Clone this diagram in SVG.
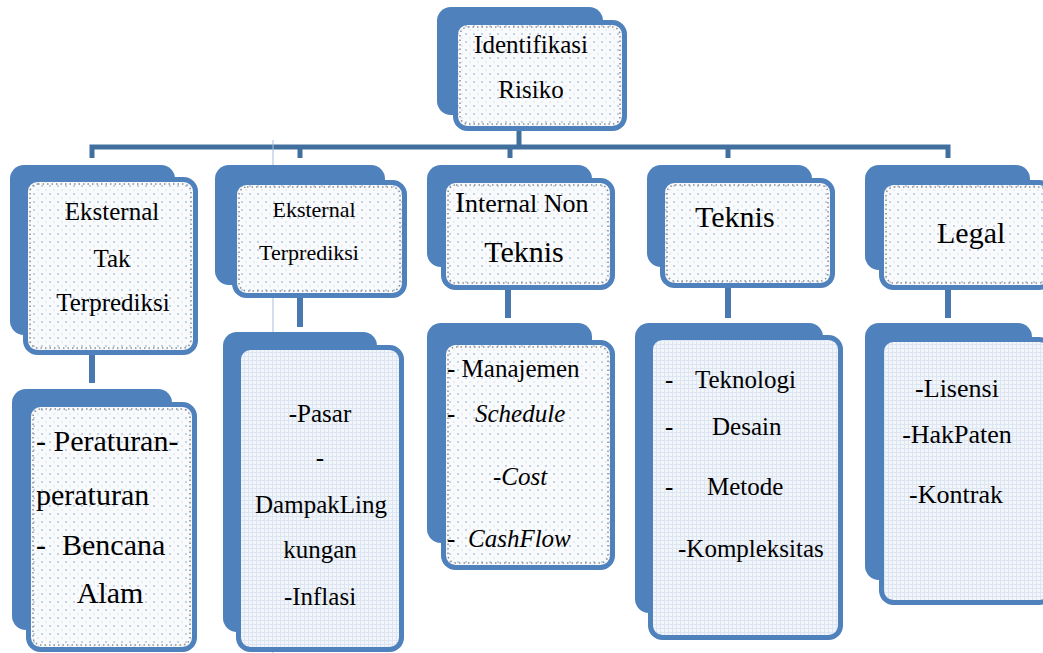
<svg xmlns="http://www.w3.org/2000/svg" width="1043" height="653" viewBox="0 0 1043 653">
<defs>
<pattern id="dots" width="8" height="8" patternUnits="userSpaceOnUse">
<rect width="8" height="8" fill="#f9fafc"/>
<circle cx="2" cy="2" r="0.9" fill="#a9c1e0"/>
<circle cx="6" cy="6" r="0.7" fill="#cad8eb"/>
</pattern>
<pattern id="grid" width="4" height="4" patternUnits="userSpaceOnUse">
<rect width="4" height="4" fill="#f2f5fa"/>
<path d="M0 0.5H4M0.5 0V4" stroke="#dce5f1" stroke-width="1"/>
</pattern>
</defs>
<rect width="1043" height="653" fill="#ffffff"/>
<g id="connectors" fill="none">
<path stroke="#41709f" stroke-width="5" d="M519 129V147M92 158V147H948V158M300 147V158M510 147V158M728 147V158"/>
<path stroke="#4a78b0" stroke-width="6" d="M92 355V383M300 298V327M508 290V318M728 288V318M948 290V318"/>
</g>
<line x1="273" y1="140" x2="273" y2="653" stroke="#a9bfdc" stroke-width="1"/>
<g font-family="'Liberation Serif', 'Times New Roman', serif" fill="#000000">
<g id="n-identifikasi">
<rect fill="#4f81bd" x="437" y="7" width="166" height="108" rx="14"/>
<rect fill="url(#dots)" stroke="#4f81bd" stroke-width="5" x="455.5" y="22.5" width="169" height="106" rx="12"/>
<rect fill="none" stroke="#8c8c8c" stroke-width="1.5" stroke-dasharray="1.5 3" x="460" y="27" width="160" height="97" rx="8"/>
<text font-size="25" text-anchor="middle" x="531" y="53">Identifikasi</text>
<text font-size="25" text-anchor="middle" x="531" y="98">Risiko</text>
</g>
<g id="n-eksternal-tak">
<rect fill="#4f81bd" x="10" y="165" width="165" height="170" rx="14"/>
<rect fill="url(#dots)" stroke="#4f81bd" stroke-width="5" x="25.5" y="179.5" width="170" height="173" rx="12"/>
<rect fill="none" stroke="#8c8c8c" stroke-width="1.5" stroke-dasharray="1.5 3" x="30" y="184" width="161" height="164" rx="8"/>
<text font-size="25" text-anchor="middle" x="112" y="220">Eksternal</text>
<text font-size="25" text-anchor="middle" x="112" y="267">Tak</text>
<text font-size="25" text-anchor="middle" x="113" y="311">Terprediksi</text>
</g>
<g id="n-eksternal-terprediksi">
<rect fill="#4f81bd" x="215" y="165" width="170" height="120" rx="14"/>
<rect fill="url(#dots)" stroke="#4f81bd" stroke-width="5" x="234.5" y="182.5" width="170" height="113" rx="12"/>
<rect fill="none" stroke="#8c8c8c" stroke-width="1.5" stroke-dasharray="1.5 3" x="239" y="187" width="161" height="104" rx="8"/>
<text font-size="22" text-anchor="middle" x="314" y="217">Eksternal</text>
<text font-size="22" text-anchor="middle" x="309" y="260">Terprediksi</text>
</g>
<g id="n-internal-non-teknis">
<rect fill="#4f81bd" x="427" y="165" width="165" height="102" rx="14"/>
<rect fill="url(#dots)" stroke="#4f81bd" stroke-width="5" x="443.5" y="180.5" width="169" height="107" rx="12"/>
<rect fill="none" stroke="#8c8c8c" stroke-width="1.5" stroke-dasharray="1.5 3" x="448" y="185" width="160" height="98" rx="8"/>
<text font-size="26" x="455" y="212"><tspan font-size="30">I</tspan>nternal Non</text>
<text font-size="30" text-anchor="middle" x="524" y="262">Teknis</text>
</g>
<g id="n-teknis">
<rect fill="#4f81bd" x="647" y="165" width="165" height="102" rx="14"/>
<rect fill="url(#dots)" stroke="#4f81bd" stroke-width="5" x="662.5" y="180.5" width="170" height="105" rx="12"/>
<rect fill="none" stroke="#8c8c8c" stroke-width="1.5" stroke-dasharray="1.5 3" x="667" y="185" width="161" height="96" rx="8"/>
<text font-size="30" x="695" y="227">Teknis</text>
</g>
<g id="n-legal">
<rect fill="#4f81bd" x="865" y="165" width="165" height="105" rx="14"/>
<rect fill="url(#dots)" stroke="#4f81bd" stroke-width="5" x="881.5" y="182.5" width="170" height="105" rx="12"/>
<rect fill="none" stroke="#8c8c8c" stroke-width="1.5" stroke-dasharray="1.5 3" x="886" y="187" width="161" height="96" rx="8"/>
<text font-size="30" x="937" y="243">Legal</text>
</g>
<g id="n-eksternal-tak-items">
<rect fill="#4f81bd" x="12" y="389" width="160" height="241" rx="14"/>
<rect fill="url(#dots)" stroke="#4f81bd" stroke-width="5" x="28.5" y="404.5" width="166" height="245" rx="12"/>
<rect fill="none" stroke="#8c8c8c" stroke-width="1.5" stroke-dasharray="1.5 3" x="33" y="409" width="157" height="236" rx="8"/>
<text font-size="30" x="36" y="451">- Peraturan-</text>
<text font-size="30" x="36" y="505">peraturan</text>
<text font-size="30" x="36" y="555">-</text>
<text font-size="30" x="62" y="555">Bencana</text>
<text font-size="30" text-anchor="middle" x="110" y="603">Alam</text>
</g>
<g id="n-eksternal-terprediksi-items">
<rect fill="#4f81bd" x="223" y="332" width="154" height="300" rx="14"/>
<rect fill="url(#grid)" stroke="#4f81bd" stroke-width="5" x="238.5" y="347.5" width="163" height="302" rx="12"/>
<text font-size="25" text-anchor="middle" x="320" y="422">-Pasar</text>
<text font-size="25" text-anchor="middle" x="320" y="466">-</text>
<text font-size="25" text-anchor="middle" x="321" y="513">DampakLing</text>
<text font-size="25" text-anchor="middle" x="320" y="558">kungan</text>
<text font-size="25" text-anchor="middle" x="320" y="605">-Inflasi</text>
</g>
<g id="n-internal-non-teknis-items">
<rect fill="#4f81bd" x="427" y="323" width="165" height="220" rx="14"/>
<rect fill="url(#dots)" stroke="#4f81bd" stroke-width="5" x="443.5" y="342.5" width="169" height="225" rx="12"/>
<rect fill="none" stroke="#8c8c8c" stroke-width="1.5" stroke-dasharray="1.5 3" x="448" y="347" width="160" height="216" rx="8"/>
<text font-size="25" x="447" y="377">- Manajemen</text>
<text font-size="25" x="447" y="422">-</text>
<text font-size="25" font-style="italic" x="475" y="422">Schedule</text>
<text font-size="25" font-style="italic" x="493" y="485">-Cost</text>
<text font-size="25" x="447" y="547">-</text>
<text font-size="25" font-style="italic" x="468" y="547">CashFlow</text>
</g>
<g id="n-teknis-items">
<rect fill="#4f81bd" x="635" y="323" width="188" height="290" rx="14"/>
<rect fill="url(#grid)" stroke="#4f81bd" stroke-width="5" x="650.5" y="337.5" width="190" height="300" rx="12"/>
<text font-size="25" x="665" y="388">-</text>
<text font-size="25" x="695" y="388">Teknologi</text>
<text font-size="25" x="665" y="435">-</text>
<text font-size="25" x="712" y="435">Desain</text>
<text font-size="25" x="665" y="495">-</text>
<text font-size="25" x="707" y="495">Metode</text>
<text font-size="25" x="678" y="557">-Kompleksitas</text>
</g>
<g id="n-legal-items">
<rect fill="#4f81bd" x="865" y="323" width="167" height="257" rx="14"/>
<rect fill="url(#grid)" stroke="#4f81bd" stroke-width="5" x="881.5" y="339.5" width="170" height="263" rx="12"/>
<text font-size="26" text-anchor="middle" x="957" y="397">-Lisensi</text>
<text font-size="26" text-anchor="middle" x="957" y="443">-HakPaten</text>
<text font-size="26" text-anchor="middle" x="956" y="503">-Kontrak</text>
</g>
</g>
</svg>
